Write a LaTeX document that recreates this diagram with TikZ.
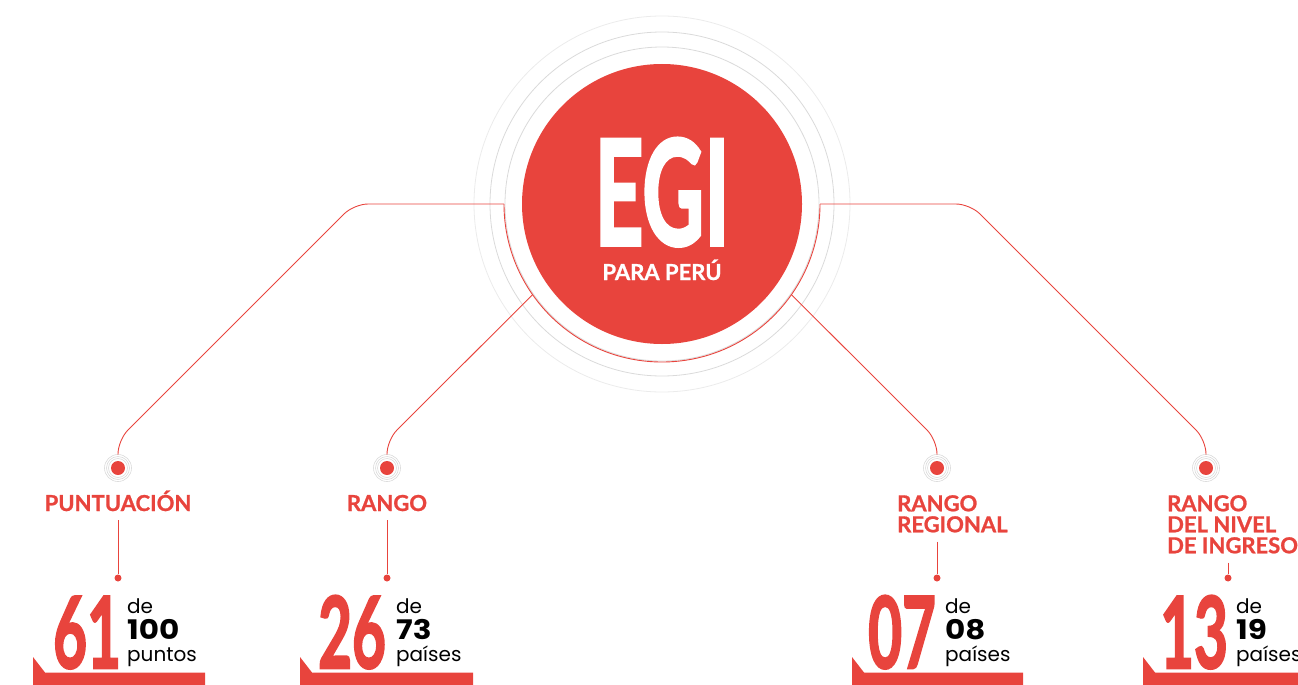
\documentclass[tikz,border=0pt]{standalone}
\usepackage{fontspec}
\setmainfont{Lato}
\newfontfamily\smallfont{Poppins}
\newfontfamily\heavyfont{Lato Bold}[FakeBold=1]
\newfontfamily\blackfont{Lato Bold}[FakeBold=2.5]
\usepackage{graphicx}
\usetikzlibrary{positioning}
\definecolor{egired}{HTML}{E8443D}
\definecolor{ringgray}{HTML}{DADADA}
\definecolor{ringlight}{HTML}{EBEBEB}
\pgfdeclarelayer{background}
\pgfsetlayers{background,main}

\begin{document}
\begin{tikzpicture}[x=1pt,y=-1pt,
					bignode/.style={circle, fill=egired, minimum size=280pt, inner sep=0pt, outer sep=0pt},
					ringnode/.style={circle, minimum size=316pt, inner sep=0pt, outer sep=0pt},
					dotnode/.style={circle, fill=egired, minimum size=14pt, inner sep=0pt, outer sep=6.5pt},
					tipnode/.style={circle, fill=egired, minimum size=7pt, inner sep=0pt},
					link/.style={draw=egired, line width=0.9pt, rounded corners=14pt},
					stem/.style={draw=egired, line width=0.9pt, shorten <=9pt},
					titlenode/.style={text=egired, font=\heavyfont\fontsize{22}{21}\selectfont, inner sep=0pt, align=left},
					numnode/.style={text=egired, font=\blackfont\fontsize{99}{99}\selectfont, inner sep=0pt, anchor=base west},
					denode/.style={font=\smallfont\fontsize{20}{20}\selectfont, inner sep=0pt, anchor=base west},
					ofnode/.style={font=\smallfont\fontsize{27}{27}\selectfont\bfseries, inner sep=0pt, anchor=base west},
					barfill/.style={fill=egired},
					]
					\useasboundingbox (0,0) rectangle (1298,685);
					%Center
					\node[bignode]        (egi)     at  (662,204)       {};
					\node[ringnode]       (ring)    at  (662,204)       {};
					\node[text=white, inner sep=0pt, anchor=base, font=\blackfont\fontsize{146}{146}\selectfont]
					                      (egit)    at  (662,245)       {\scalebox{0.585}[1]{EGI}};
					\node[text=white, inner sep=0pt, anchor=base, font=\heavyfont\fontsize{22}{22}\selectfont]
					                      (peru)    at  (662,280)       {PARA PERÚ};
					
					%Bullets
					\node[dotnode]        (b1)      at  (118,468)       {};
					\node[dotnode]        (b2)      at  (387,468)       {};
					\node[dotnode]        (b3)      at  (937,468)       {};
					\node[dotnode]        (b4)      at  (1206,468)      {};
					
					%Titles
					\node[titlenode, anchor=base]        (t1) at (118,511)  {PUNTUACIÓN};
					\node[titlenode, anchor=base]        (t2) at (387,511)  {RANGO};
					\node[titlenode, anchor=north west]  (t3) at (897,495)  {RANGO\\REGIONAL};
					\node[titlenode, anchor=north west]  (t4) at (1167,495) {RANGO\\DEL NIVEL\\DE INGRESO};
					
					%Tips
					\node[tipnode]        (d1)      at  (118,578)       {};
					\node[tipnode]        (d2)      at  (387,578)       {};
					\node[tipnode]        (d3)      at  (937,578)       {};
					\node[tipnode]        (d4)      at  (1228,578)      {};
					
					%Bends
					\coordinate (k1a) at (354,204);
					\coordinate (k1b) at (118,440);
					\coordinate (k2)  at (387,440);
					\coordinate (k3)  at (937,440);
					\coordinate (k4a) at (970,204);
					\coordinate (k4b) at (1206,440);
					
					\begin{pgfonlayer}{background}
					%Rings
					\draw[ringgray, line width=0.8pt] (egi) circle[radius=157pt];
					\draw[ringgray, line width=0.8pt] (egi) circle[radius=172pt];
					\draw[ringlight, line width=0.8pt] (egi) circle[radius=188pt];
					\foreach \b in {b1,b2,b3,b4}
						\draw[ringgray, line width=0.6pt] (\b) circle[radius=9.5pt] circle[radius=11.5pt] circle[radius=13.5pt];
					\end{pgfonlayer}
					
					%Lines
					\begin{scope}
						\clip (400,204) rectangle (920,400);
						\draw[egired, line width=0.9pt] (ring) circle[radius=158pt];
					\end{scope}
					\draw[link] (ring.west) -- (k1a) -- (k1b) -- (b1);
					\draw[link] (ring.215.5) -- (k2) -- (b2);
					\draw[link] (ring.-35.5) -- (k3) -- (b3);
					\draw[link] (ring.east) -- (k4a) -- (k4b) -- (b4);
					\draw[stem] (t1) -- (d1);
					\draw[stem] (t2) -- (d2);
					\draw[stem] (t3.south -| d3) -- (d3);
					\draw[stem] (t4.south -| d4) -- (d4);
					
					%Bars
					\fill[barfill] (33,657) -- (45,672.5) -- (205,672.5) -- (205,685) -- (33,685) -- cycle;
					\fill[barfill] (300,657) -- (312,672.5) -- (473,672.5) -- (473,685) -- (300,685) -- cycle;
					\fill[barfill] (852,657) -- (864,672.5) -- (1023,672.5) -- (1023,685) -- (852,685) -- cycle;
					\fill[barfill] (1143,657) -- (1155,672.5) -- (1298,672.5) -- (1298,685) -- (1143,685) -- cycle;
					
					%Figures
					\node[numnode]  (n1)  at (53,668)   {\scalebox{0.59}[1]{61}};
					\node[denode]   (de1) at (127,613)  {de};
					\node[ofnode]   (of1) at (127,639)  {\scalebox{1.15}[1]{100}};
					\node[denode]   (u1)  at (127,661)  {puntos};
					
					\node[numnode]  (n2)  at (318,668)  {\scalebox{0.59}[1]{26}};
					\node[denode]   (de2) at (396,613)  {de};
					\node[ofnode]   (of2) at (396,639)  {\scalebox{1.15}[1]{73}};
					\node[denode]   (u2)  at (396,661)  {países};
					
					\node[numnode]  (n3)  at (868,668)  {\scalebox{0.59}[1]{07}};
					\node[denode]   (de3) at (945,613)  {de};
					\node[ofnode]   (of3) at (945,639)  {\scalebox{1.15}[1]{08}};
					\node[denode]   (u3)  at (945,661)  {países};
					
					\node[numnode]  (n4)  at (1160,668) {\scalebox{0.59}[1]{13}};
					\node[denode]   (de4) at (1236,613) {de};
					\node[ofnode]   (of4) at (1236,639) {\scalebox{1.15}[1]{19}};
					\node[denode]   (u4)  at (1236,661) {países};
				\end{tikzpicture}
\end{document}
